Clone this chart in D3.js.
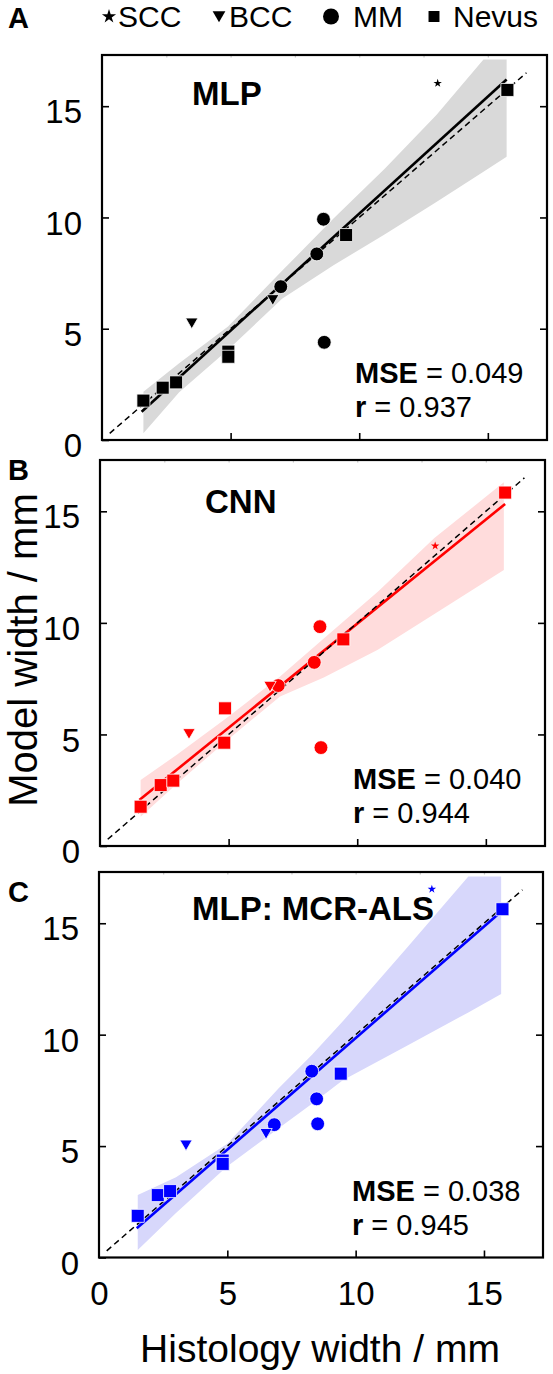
<!DOCTYPE html>
<html>
<head>
<meta charset="utf-8">
<script src="https://cdn.jsdelivr.net/npm/d3@7"></script>
<style>
  html, body { margin: 0; padding: 0; background: #fff; }
  svg { display: block; font-family: "Liberation Sans", Arial, sans-serif; }
</style>
</head>
<body>
<script>
// ---------------- data ----------------
const legendTypes = ["SCC", "BCC", "MM", "Nevus"];
const xTicks = [0, 5, 10, 15];
const yTicks = [0, 5, 10, 15];
const minorTicks = [2.5, 5, 7.5, 10, 12.5, 15];

// Panel A: MLP
const typeA = ["Nevus","Nevus","Nevus","Nevus","Nevus","Nevus","Nevus","MM","MM","MM","MM","BCC","BCC","SCC"];
const histA = [1.61, 2.36, 2.88, 4.91, 4.91, 9.49, 15.76, 6.95, 8.35, 8.61, 8.64, 3.49, 6.64, 13.05];
const modelA = [1.77, 2.35, 2.59, 3.97, 3.74, 9.21, 15.73, 6.89, 8.36, 9.92, 4.39, 5.32, 6.37, 16.03];
const fitXA = [1.54, 15.73];
const fitYA = [1.27, 16.2];
const bandXA  = [1.61, 3.0, 4.9, 7.0, 9.0, 11.0, 13.0, 14.83, 15.73];
const bandLoA = [0.30, 2.15, 4.05, 6.35, 7.85, 9.25, 10.7, 12.05, 12.73];
const bandHiA = [2.17, 3.45, 5.10, 7.60, 9.95, 12.2, 14.6, 17.1, 17.1];
const statsA = ["0.049", "0.937"];

// Panel B: CNN
const typeB = ["Nevus","Nevus","Nevus","Nevus","Nevus","Nevus","Nevus","MM","MM","MM","MM","BCC","BCC","SCC"];
const histB = [1.58, 2.36, 2.85, 4.86, 4.83, 9.46, 15.75, 6.93, 8.33, 8.55, 8.59, 3.46, 6.61, 13.03];
const modelB = [1.76, 2.73, 2.93, 6.17, 4.63, 9.26, 15.84, 7.19, 8.23, 9.83, 4.41, 5.10, 7.22, 13.45];
const fitXB = [1.53, 15.75];
const fitYB = [2.06, 15.33];
const bandXB  = [1.58, 3.0, 5.0, 7.0, 8.7, 10.8, 13.0, 15.7];
const bandLoB = [1.31, 2.80, 4.80, 6.70, 7.55, 8.80, 10.4, 12.37];
const bandHiB = [2.96, 4.10, 5.80, 7.60, 9.30, 11.4, 13.8, 16.3];
const statsB = ["0.040", "0.944"];

// Panel C: MLP: MCR-ALS
const typeC = ["Nevus","Nevus","Nevus","Nevus","Nevus","Nevus","Nevus","MM","MM","MM","MM","BCC","BCC","SCC"];
const histC = [1.51, 2.29, 2.77, 4.82, 4.82, 9.42, 15.72, 8.29, 8.48, 8.52, 6.83, 3.39, 6.51, 12.97];
const modelC = [1.87, 2.80, 2.98, 4.35, 4.20, 8.25, 15.63, 8.36, 7.12, 6.00, 5.96, 5.11, 5.63, 16.53];
const fitXC = [1.47, 15.63];
const fitYC = [1.31, 15.48];
const bandXC  = [1.51, 3.0, 5.0, 7.0, 8.3, 9.5, 12.0, 14.39, 15.67];
const bandLoC = [0.34, 2.00, 4.10, 5.80, 6.90, 7.95, 9.50, 11.0, 11.83];
const bandHiC = [2.80, 3.60, 5.10, 7.60, 9.10, 10.6, 13.9, 17.1, 17.1];
const statsC = ["0.038", "0.945"];

// ---------------- layout / style ----------------
const W = 553, H = 1374;
const DOMAIN = [0, 17.3];

const panels = [
  { letter: "A", title: "MLP", type: typeA, hx: histA, my: modelA, fx: fitXA, fy: fitYA,
    bx: bandXA, lo: bandLoA, hi: bandHiA, stats: statsA,
    color: "#000000", bandColor: "#d9d9d9",
    box: { l: 102, r: 547, t: 55, b: 440 }, titleDx: 90, titleDy: 50, letterY: 28 },
  { letter: "B", title: "CNN", type: typeB, hx: histB, my: modelB, fx: fitXB, fy: fitYB,
    bx: bandXB, lo: bandLoB, hi: bandHiB, stats: statsB,
    color: "#ff0000", bandColor: "#ffdcdc",
    box: { l: 100, r: 545, t: 460, b: 846 }, titleDx: 105, titleDy: 53, letterY: 480 },
  { letter: "C", title: "MLP: MCR-ALS", type: typeC, hx: histC, my: modelC, fx: fitXC, fy: fitYC,
    bx: bandXC, lo: bandLoC, hi: bandHiC, stats: statsC,
    color: "#0000ff", bandColor: "#d7d7fb",
    box: { l: 99, r: 543, t: 872, b: 1257.5 }, titleDx: 93, titleDy: 48, letterY: 902 }
];

const symbolFor = {
  SCC:   { type: d3.symbolStar, size: 22, rot: 0 },
  BCC:   { type: d3.symbolTriangle, size: 66, rot: 180 },
  MM:    { type: d3.symbolCircle, size: 150, rot: 0 },
  Nevus: { type: d3.symbolSquare, size: 169, rot: 0 }
};

const svg = d3.select("body").append("svg")
  .attr("width", W).attr("height", H)
  .attr("viewBox", `0 0 ${W} ${H}`);
svg.append("rect").attr("width", W).attr("height", H).attr("fill", "#fff");

panels.forEach((p, pi) => {
  const { l, r, t, b } = p.box;
  const x = d3.scaleLinear().domain(DOMAIN).range([l, r]);
  const y = d3.scaleLinear().domain(DOMAIN).range([b, t]);
  const g = svg.append("g");

  const clipId = "clip" + p.letter;
  svg.append("clipPath").attr("id", clipId)
    .append("rect").attr("x", l).attr("y", t).attr("width", r - l).attr("height", b - t);
  const plot = g.append("g").attr("clip-path", `url(#${clipId})`);

  // confidence band
  const bandData = p.bx.map((v, i) => ({ x: v, lo: p.lo[i], hi: p.hi[i] }));
  plot.append("path").datum(bandData)
    .attr("fill", p.bandColor)
    .attr("d", d3.area().x(d => x(d.x)).y0(d => y(d.lo)).y1(d => y(d.hi)));

  // regression line
  const fit = p.fx.map((v, i) => [v, p.fy[i]]);
  plot.append("path").datum(fit)
    .attr("fill", "none").attr("stroke", p.color).attr("stroke-width", 2.6)
    .attr("d", d3.line().x(d => x(d[0])).y(d => y(d[1])));

  // identity line
  const ident = [[0.3, 0.3], [16.5, 16.5]];
  plot.append("path").datum(ident)
    .attr("fill", "none").attr("stroke", "#000").attr("stroke-width", 1.5)
    .attr("stroke-dasharray", "6,4")
    .attr("d", d3.line().x(d => x(d[0])).y(d => y(d[1])));

  // markers
  const pts = p.hx.map((v, i) => ({ x: v, y: p.my[i], type: p.type[i] }));
  g.append("g").selectAll("path").data(pts).join("path")
    .attr("transform", d => `translate(${x(d.x)},${y(d.y)}) rotate(${symbolFor[d.type].rot})`)
    .attr("d", d => d3.symbol().type(symbolFor[d.type].type).size(symbolFor[d.type].size)())
    .attr("fill", p.color)
    .attr("stroke", d => d.type === "SCC" ? "none" : "#fff")
    .attr("stroke-width", 0.8);

  // axes (ticks inward)
  const yAx = g.append("g").attr("transform", `translate(${l},0)`)
    .call(d3.axisLeft(y).tickValues(yTicks).tickSize(-7).tickPadding(20).tickFormat(d3.format("d")));
  yAx.selectAll("text").attr("dy", "0.32em").attr("transform", "translate(0,6)")
    .style("font-size", "33px").attr("fill", "#000");
  yAx.select(".domain").remove();
  yAx.selectAll("line").attr("stroke", "#000").attr("stroke-width", 1.6);

  const rAx = g.append("g").attr("transform", `translate(${r},0)`)
    .call(d3.axisRight(y).tickValues(yTicks.filter(v => v > 0)).tickSize(-7).tickFormat(""));
  rAx.select(".domain").remove();
  rAx.selectAll("line").attr("stroke", "#000").attr("stroke-width", 1.6);

  const bAx = g.append("g").attr("transform", `translate(0,${b})`)
    .call(d3.axisBottom(x).tickValues(xTicks.filter(v => v > 0)).tickSize(-7).tickFormat(""));
  bAx.select(".domain").remove();
  bAx.selectAll("line").attr("stroke", "#000").attr("stroke-width", 1.6);

  const tAx = g.append("g").attr("transform", `translate(0,${t})`)
    .call(d3.axisTop(x).tickValues(minorTicks).tickSize(-2.5).tickFormat(""));
  tAx.select(".domain").remove();
  tAx.selectAll("line").attr("stroke", "#c8c8c8").attr("stroke-width", 1.2);

  if (pi === panels.length - 1) {
    const xl = g.append("g").attr("transform", `translate(0,${b})`)
      .call(d3.axisBottom(x).tickValues(xTicks).tickSize(0).tickPadding(0).tickFormat(d3.format("d")));
    xl.select(".domain").remove();
    xl.selectAll("text").attr("dy", null).attr("y", 47)
      .style("font-size", "33px").attr("fill", "#000");
  }

  // frame
  g.append("rect").attr("x", l).attr("y", t).attr("width", r - l).attr("height", b - t)
    .attr("fill", "none").attr("stroke", "#000").attr("stroke-width", 2.2);

  // title
  g.append("text").attr("x", l + p.titleDx).attr("y", t + p.titleDy)
    .style("font-size", "33px").style("font-weight", "bold").text(p.title);

  // stats
  const s1 = g.append("text").attr("x", l + 253).attr("y", b - 57).style("font-size", "29px");
  s1.append("tspan").style("font-weight", "bold").text("MSE");
  s1.append("tspan").text(" = " + p.stats[0]);
  const s2 = g.append("text").attr("x", l + 253).attr("y", b - 23).style("font-size", "29px");
  s2.append("tspan").style("font-weight", "bold").text("r");
  s2.append("tspan").text(" = " + p.stats[1]);

  // panel letter
  svg.append("text").attr("x", 8).attr("y", p.letterY)
    .style("font-size", "29px").style("font-weight", "bold").text(p.letter);
});

// legend
const legendX = [109, 219, 331, 434];
const legendTextX = [118, 229, 353, 453];
const lg = svg.append("g");
legendTypes.forEach((k, i) => {
  const s = symbolFor[k];
  const lsize = { SCC: 62, BCC: 70, MM: 200, Nevus: 120 }[k];
  lg.append("path")
    .attr("transform", `translate(${legendX[i]},${k === "BCC" ? 15 : 16.5}) rotate(${s.rot})`)
    .attr("d", d3.symbol().type(s.type).size(lsize)())
    .attr("fill", "#000");
  lg.append("text").attr("x", legendTextX[i]).attr("y", 26.5)
    .style("font-size", "30px").text(k);
});

// axis titles
svg.append("text").attr("x", 320).attr("y", 1362).attr("text-anchor", "middle")
  .style("font-size", "39px").text("Histology width / mm");
svg.append("text").attr("transform", "translate(37,650) rotate(-90)").attr("text-anchor", "middle")
  .style("font-size", "40px").text("Model width / mm");
</script>
</body>
</html>
